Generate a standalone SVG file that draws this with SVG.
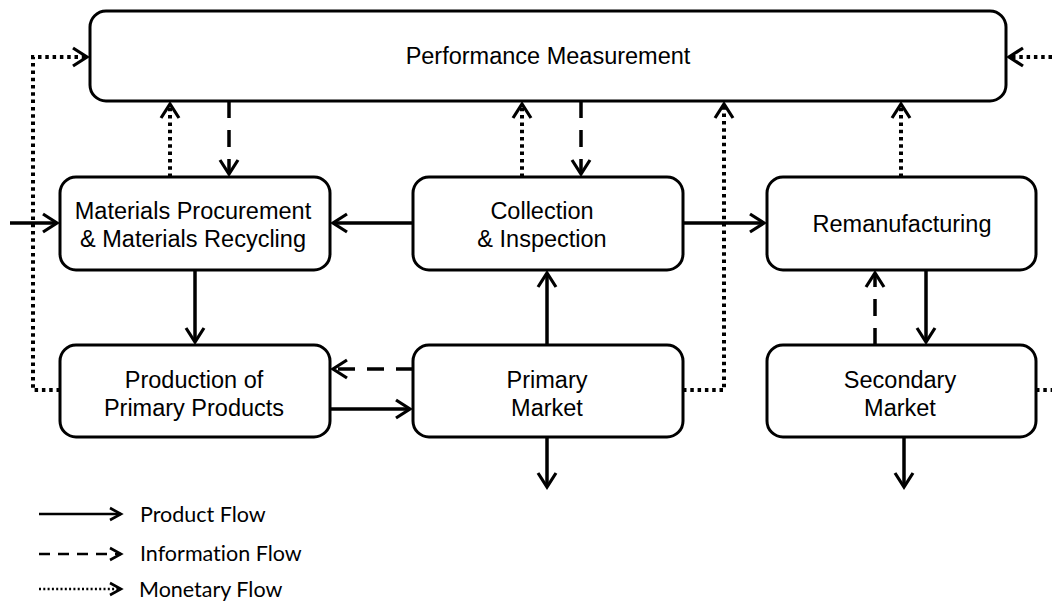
<svg xmlns="http://www.w3.org/2000/svg" width="1052" height="601" viewBox="0 0 1052 601">
<style>
.box{fill:#fff;stroke:#000;stroke-width:3}
.lbl{font-family:"Liberation Sans",Arial,sans-serif;font-size:23.5px;fill:#000;text-anchor:middle}
.leg{font-family:Lato,"Liberation Sans",sans-serif;font-size:21.5px;fill:#000;font-variant-ligatures:none}
.c{fill:none;stroke:#000;stroke-width:3.5}
.solid{marker-end:url(#ah)}
.dash{stroke-dasharray:17 12;marker-end:url(#ah)}
.dot{stroke-width:4;stroke-dasharray:3.5 3.8;marker-end:url(#ah)}
.dotn{stroke-width:4;stroke-dasharray:3.5 3.8}
.lg{fill:none;stroke:#000;stroke-width:2.5;marker-end:url(#ahs)}
</style>
<defs>
<marker id="ah" markerUnits="userSpaceOnUse" markerWidth="24" markerHeight="24" viewBox="-18 -12 24 24" refX="0" refY="0" orient="auto" overflow="visible">
<path d="M-14,-9 L0,0 L-14,9" fill="none" stroke="#000" stroke-width="3.2"/>
</marker>
<marker id="ahs" markerUnits="userSpaceOnUse" markerWidth="20" markerHeight="20" viewBox="-14 -10 20 20" refX="0" refY="0" orient="auto" overflow="visible">
<path d="M-11,-6 L0,0 L-11,6" fill="none" stroke="#000" stroke-width="2.6"/>
</marker>
</defs>

<g id="connectors">
<path class="c solid" d="M10,223 H57"/>
<path class="c solid" d="M413,223 H333"/>
<path class="c solid" d="M683,223 H764"/>
<path class="c solid" d="M195,270 V342"/>
<path class="c solid" d="M547,345 V273"/>
<path class="c solid" d="M330,409 H410"/>
<path class="c dash" d="M413,369 H333"/>
<path class="c solid" d="M926,270 V342"/>
<path class="c dash" d="M875,345 V273"/>
<path class="c solid" d="M547,437 V487"/>
<path class="c solid" d="M904,437 V487"/>
<path class="c dash" d="M229,101 V174"/>
<path class="c dash" d="M581,101 V174"/>
<path class="c dot" d="M170,177 V104"/>
<path class="c dot" d="M522,177 V104"/>
<path class="c dot" d="M901,177 V104"/>
<path class="c dot" d="M683,390 H724 V104"/>
<path class="c dot" d="M60,390 H33 V57 H87"/>
<path class="c dotn" d="M1036,390 H1052"/>
<path class="c dot" d="M1052,57 H1009"/>
</g>

<g id="perf"><rect class="box" x="90" y="11" width="916" height="90" rx="16"/><text class="lbl" x="548" y="64">Performance Measurement</text></g>
<g id="materials"><rect class="box" x="60" y="177" width="270" height="93" rx="16"/><text class="lbl" x="193" y="219">Materials Procurement</text><text class="lbl" x="193" y="247">&amp; Materials Recycling</text></g>
<g id="collection"><rect class="box" x="413" y="177" width="270" height="93" rx="16"/><text class="lbl" x="542" y="219">Collection</text><text class="lbl" x="542" y="247">&amp; Inspection</text></g>
<g id="reman"><rect class="box" x="767" y="177" width="269" height="93" rx="16"/><text class="lbl" x="902" y="232">Remanufacturing</text></g>
<g id="production"><rect class="box" x="60" y="345" width="270" height="92" rx="16"/><text class="lbl" x="194" y="388">Production of</text><text class="lbl" x="194" y="416">Primary Products</text></g>
<g id="primary"><rect class="box" x="413" y="345" width="270" height="92" rx="16"/><text class="lbl" x="547" y="388">Primary</text><text class="lbl" x="547" y="416">Market</text></g>
<g id="secondary"><rect class="box" x="767" y="345" width="269" height="92" rx="16"/><text class="lbl" x="900" y="388">Secondary</text><text class="lbl" x="900" y="416">Market</text></g>

<g id="legend">
<path class="lg" d="M39,514 H121"/>
<path class="lg" d="M39,554 H121" stroke-dasharray="11 8"/>
<path class="lg" d="M39,589 H121" stroke-dasharray="2 2.3"/>
<text class="leg" x="140" y="522">Product Flow</text>
<text class="leg" x="140" y="561">Information Flow</text>
<text class="leg" x="139" y="597">Monetary Flow</text>
</g>
</svg>
